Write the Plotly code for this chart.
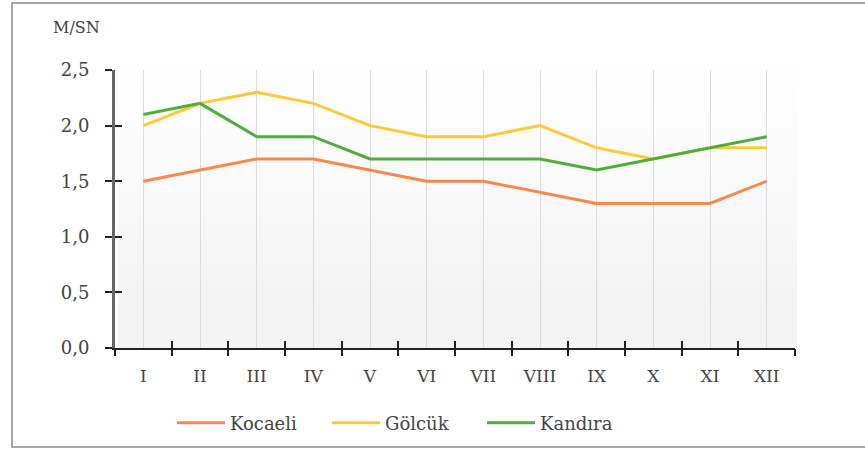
import plotly.graph_objects as go

months = ["I", "II", "III", "IV", "V", "VI", "VII", "VIII", "IX", "X", "XI", "XII"]
kocaeli = [1.5, 1.6, 1.7, 1.7, 1.6, 1.5, 1.5, 1.4, 1.3, 1.3, 1.3, 1.5]
golcuk = [2.0, 2.2, 2.3, 2.2, 2.0, 1.9, 1.9, 2.0, 1.8, 1.7, 1.8, 1.8]
kandira = [2.1, 2.2, 1.9, 1.9, 1.7, 1.7, 1.7, 1.7, 1.6, 1.7, 1.8, 1.9]
y_ticks = [0, 0.5, 1.0, 1.5, 2.0, 2.5]
y_tick_text = ["0,0", "0,5", "1,0", "1,5", "2,0", "2,5"]

W, H = 865, 449
L, R, T, B = 115, 70, 70, 101
pw, ph = W - L - R, H - T - B

def px_x(p):
    return (p - L) / pw

def px_y(p):
    return (H - B - p) / ph

FONT = "DejaVu Serif"
n = len(months)
xs = list(range(1, n + 1))

fig = go.Figure()
series = [("Kocaeli", kocaeli, "#F7894E"), ("Gölcük", golcuk, "#FFC93C"), ("Kandıra", kandira, "#4DAE3C")]
for name, vals, col in series:
    fig.add_trace(go.Scatter(x=xs, y=vals, mode="lines", name=name,
                             line=dict(color=col, width=3)))

fig.add_trace(go.Scatter(x=[1], y=[0], xaxis="x2", mode="markers", marker=dict(opacity=0), showlegend=False, hoverinfo="skip"))
fig.add_trace(go.Scatter(x=[1], y=[0], xaxis="x3", mode="markers", marker=dict(opacity=0), showlegend=False, hoverinfo="skip"))
fig.add_trace(go.Scatter(x=[1], y=[0], yaxis="y2", mode="markers", marker=dict(opacity=0), showlegend=False, hoverinfo="skip"))

shapes = []
nb = 14
top = px_y(45)
for i in range(nb):
    y0 = i / nb * top
    y1 = (i + 1) / nb * top
    g = int(243 + (i / (nb - 1)) * 12)
    shapes.append(dict(type="rect", xref="paper", yref="paper", x0=px_x(118), x1=px_x(797),
                       y0=y0, y1=y1, fillcolor=f"rgb({g},{g},{g})", line=dict(width=0), layer="below"))
shapes.append(dict(type="rect", xref="paper", yref="paper", x0=px_x(12), x1=px_x(875),
                   y0=px_y(447), y1=px_y(3), line=dict(color="#8a8a8a", width=1.5), fillcolor="rgba(0,0,0,0)"))

bounds = [i + 0.5 for i in range(0, n + 1)]
xr = [0.5, n + 0.5]
fig.update_layout(
    width=W, height=H,
    margin=dict(l=L, r=R, t=T, b=B, autoexpand=False),
    paper_bgcolor="white", plot_bgcolor="rgba(0,0,0,0)",
    shapes=shapes,
    showlegend=True,
    legend=dict(orientation="h", x=px_x(172), xanchor="left", y=px_y(423), yanchor="middle",
                font=dict(family=FONT, size=18, color="#444"), itemwidth=48, bgcolor="rgba(0,0,0,0)",
                entrywidth=92, entrywidthmode="pixels", tracegroupgap=0),
    xaxis=dict(range=xr, tickvals=xs, ticktext=months, ticks="", showgrid=True,
               gridcolor="#dcdcdc", gridwidth=1, showline=True, linecolor="#222", linewidth=2,
               tickfont=dict(family=FONT, size=17, color="#444"), zeroline=False,
               ticklabelstandoff=12),
    xaxis2=dict(range=xr, overlaying="x", anchor="y", side="bottom", tickvals=bounds, ticks="outside",
                ticklen=7, tickwidth=2, tickcolor="#222", showticklabels=False, showgrid=False,
                showline=False, zeroline=False),
    xaxis3=dict(range=xr, overlaying="x", anchor="y", side="bottom", tickvals=bounds, ticks="inside",
                ticklen=7, tickwidth=2, tickcolor="#222", showticklabels=False, showgrid=False,
                showline=False, zeroline=False),
    yaxis=dict(range=[0, 2.5], tickvals=y_ticks, ticktext=y_tick_text, ticks="outside", ticklen=7,
               tickwidth=2, tickcolor="#222", showgrid=False, showline=True, linecolor="#666",
               linewidth=3, zeroline=False, tickfont=dict(family=FONT, size=18, color="#444"),
               ticklabelstandoff=12),
    yaxis2=dict(range=[0, 2.5], overlaying="y", anchor="x", side="left", tickvals=y_ticks, ticks="inside",
                ticklen=7, tickwidth=2, tickcolor="#222", showticklabels=False, showgrid=False,
                showline=False, zeroline=False),
    annotations=[dict(text="M/SN", xref="paper", yref="paper", x=px_x(76), y=px_y(27),
                      xanchor="center", yanchor="middle", showarrow=False,
                      font=dict(family=FONT, size=16, color="#444"))],
)

fig.write_html("out.html", config={"displayModeBar": False},
               post_script="document.body.style.margin='0';")
